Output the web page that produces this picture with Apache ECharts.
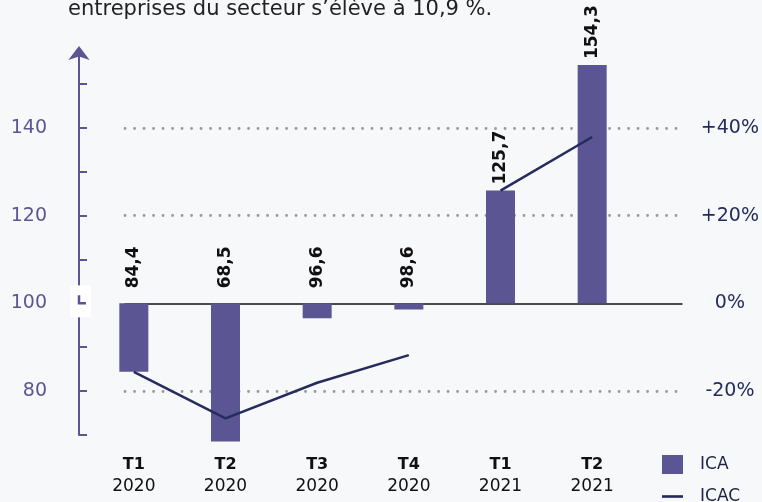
<!DOCTYPE html>
<html>
<head>
<meta charset="utf-8">
<script src="https://cdn.jsdelivr.net/npm/echarts@6/dist/echarts.min.js"></script>
<style>
html,body{margin:0;padding:0;background:#f7f8fa;}
#chart{width:762px;height:502px;}
</style>
</head>
<body>
<div id="chart"></div>
<script>
// 数据
var quarters = ['T1', 'T2', 'T3', 'T4', 'T1', 'T2'];
var years = ['2020', '2020', '2020', '2020', '2021', '2021'];
var ica = [84.4, 68.5, 96.6, 98.6, 125.7, 154.3];
var icac2020 = [-15.6, -26.2, -18.1, -11.8, '-', '-'];
var icac2021 = ['-', '-', '-', '-', 25.7, 37.9];
var leftTicks = [70, 80, 90, 100, 110, 120, 130, 140, 150];
var leftLabels = [80, 100, 120, 140];
var rightLabels = [-20, 0, 20, 40];

var purple = '#5b5593';
var navy = '#252b5c';
var font = 'DejaVu Sans';

var cats = [];
for (var i = 0; i < quarters.length; i++) {
	cats.push(quarters[i] + '\n' + years[i]);
}
// ICA en écart à la base 100 (axe de droite, 0% = 100)
var icaData = ica.map(function (v) {
	return {
		value: Math.round((v - 100) * 10) / 10,
		label: { distance: v < 100 ? 15 : 6 }
	};
});

var myChart = echarts.init(document.getElementById('chart'));
var option = {
	backgroundColor: '#f7f8fa',
	animation: false,
	textStyle: { fontFamily: font },
	title: {
		text: 'entreprises du secteur s\u2019élève à 10,9 %.',
		left: 63,
		top: -6,
		textStyle: { fontSize: 21, fontWeight: 'normal', color: '#222', fontFamily: font }
	},
	legend: {
		orient: 'vertical',
		left: 657,
		top: 450,
		height: 80,
		itemWidth: 21,
		itemHeight: 19,
		itemGap: 14,
		textStyle: { fontSize: 17, color: '#1e2340', fontFamily: font, padding: [0, 0, 0, 12] },
		data: [
			{ name: 'ICA', icon: 'rect' },
			{ name: 'ICAC', icon: 'path://M0,0H24V3H0Z' }
		]
	},
	grid: [
		{ left: 125, right: 79, top: 51, bottom: 67 },   // axes + pointillés
		{ left: 88, right: 124, top: 51, bottom: 67 }    // barres + courbe
	],
	xAxis: [
		{
			gridIndex: 0, type: 'value', min: 0, max: 1,
			axisLine: { show: true, onZero: true, onZeroAxisIndex: 1, lineStyle: { color: '#111', width: 1.5 } },
			axisTick: { show: false }, axisLabel: { show: false }, splitLine: { show: false }
		},
		{
			gridIndex: 1, type: 'category', data: cats,
			axisLine: { show: false }, axisTick: { show: false },
			axisLabel: {
				interval: 0, margin: 19,
				formatter: function (value) {
					var p = value.split('\n');
					return '{q|' + p[0] + '}\n{y|' + p[1] + '}';
				},
				rich: {
					q: { fontSize: 16, fontWeight: 'bold', color: '#111', lineHeight: 22, fontFamily: font },
					y: { fontSize: 17, color: '#111', lineHeight: 22, fontFamily: font }
				}
			}
		}
	],
	yAxis: [
		{
			gridIndex: 0, type: 'value', position: 'left', offset: 46,
			min: 70, max: 157.5, interval: 10,
			axisLine: {
				show: true, onZero: false, symbol: ['none', 'arrow'], symbolSize: [16, 14], symbolOffset: [0, 5],
				lineStyle: { color: purple, width: 2 }
			},
			axisTick: { show: true, inside: true, length: 8, customValues: leftTicks, lineStyle: { color: purple, width: 2 } },
			axisLabel: {
				margin: 32, fontSize: 19, color: purple, customValues: leftLabels,
				formatter: function (v) { return leftLabels.indexOf(v) >= 0 ? String(v) : ''; }
			},
			splitLine: { show: false }
		},
		{
			gridIndex: 0, type: 'value', position: 'right',
			min: -30, max: 57.5, interval: 10,
			axisLine: { show: false, onZero: false }, axisTick: { show: false },
			axisLabel: {
				margin: 48, align: 'center', fontSize: 19, color: navy,
				formatter: function (v) {
					if (rightLabels.indexOf(v) < 0) return '';
					return (v > 0 ? '+' : '') + v + '%';
				}
			},
			splitLine: {
				show: true,
				lineStyle: {
					// -30,-20,-10,0,10,20,30,40,50,max : pointillés à -20, +20, +40
					color: ['rgba(0,0,0,0)', '#9a9a9a', 'rgba(0,0,0,0)', 'rgba(0,0,0,0)', 'rgba(0,0,0,0)',
						'#9a9a9a', 'rgba(0,0,0,0)', '#9a9a9a', 'rgba(0,0,0,0)', 'rgba(0,0,0,0)'],
					width: 2.8, type: [0.1, 9.4], cap: 'round'
				}
			}
		},
		{ gridIndex: 1, type: 'value', min: -30, max: 57.5, show: false }
	],
	series: [
		{
			name: 'ICA', type: 'bar', xAxisIndex: 1, yAxisIndex: 2,
			barWidth: 29, clip: false, itemStyle: { color: purple },
			label: {
				show: true, position: 'top', rotate: 90,
				align: 'left', verticalAlign: 'middle',
				fontSize: 17, fontWeight: 'bold', color: '#111', fontFamily: font,
				formatter: function (p) { return ica[p.dataIndex].toFixed(1).replace('.', ','); }
			},
			data: icaData
		},
		{
			name: 'ICAC', type: 'line', xAxisIndex: 1, yAxisIndex: 2,
			symbol: 'none', lineStyle: { color: navy, width: 2.5 }, itemStyle: { color: navy },
			data: icac2020
		},
		{
			name: 'ICAC', type: 'line', xAxisIndex: 1, yAxisIndex: 2,
			symbol: 'none', lineStyle: { color: navy, width: 2.5 }, itemStyle: { color: navy },
			data: icac2021
		}
	]
};
myChart.setOption(option);

// petit cartouche blanc sur l'axe gauche au niveau de 100
var y100 = myChart.convertToPixel({ yAxisIndex: 0 }, 100);
var axisX = 125 - 46;
myChart.setOption({
	graphic: [
		{ type: 'rect', shape: { x: axisX - 9, y: y100 - 18, width: 21, height: 32 }, style: { fill: '#fff' }, z: 100 },
		{ type: 'polyline', shape: { points: [[axisX, y100 - 8], [axisX, y100], [axisX + 7, y100]] },
			style: { stroke: purple, lineWidth: 2.5, fill: null }, z: 101 }
	]
});
</script>
</body>
</html>
